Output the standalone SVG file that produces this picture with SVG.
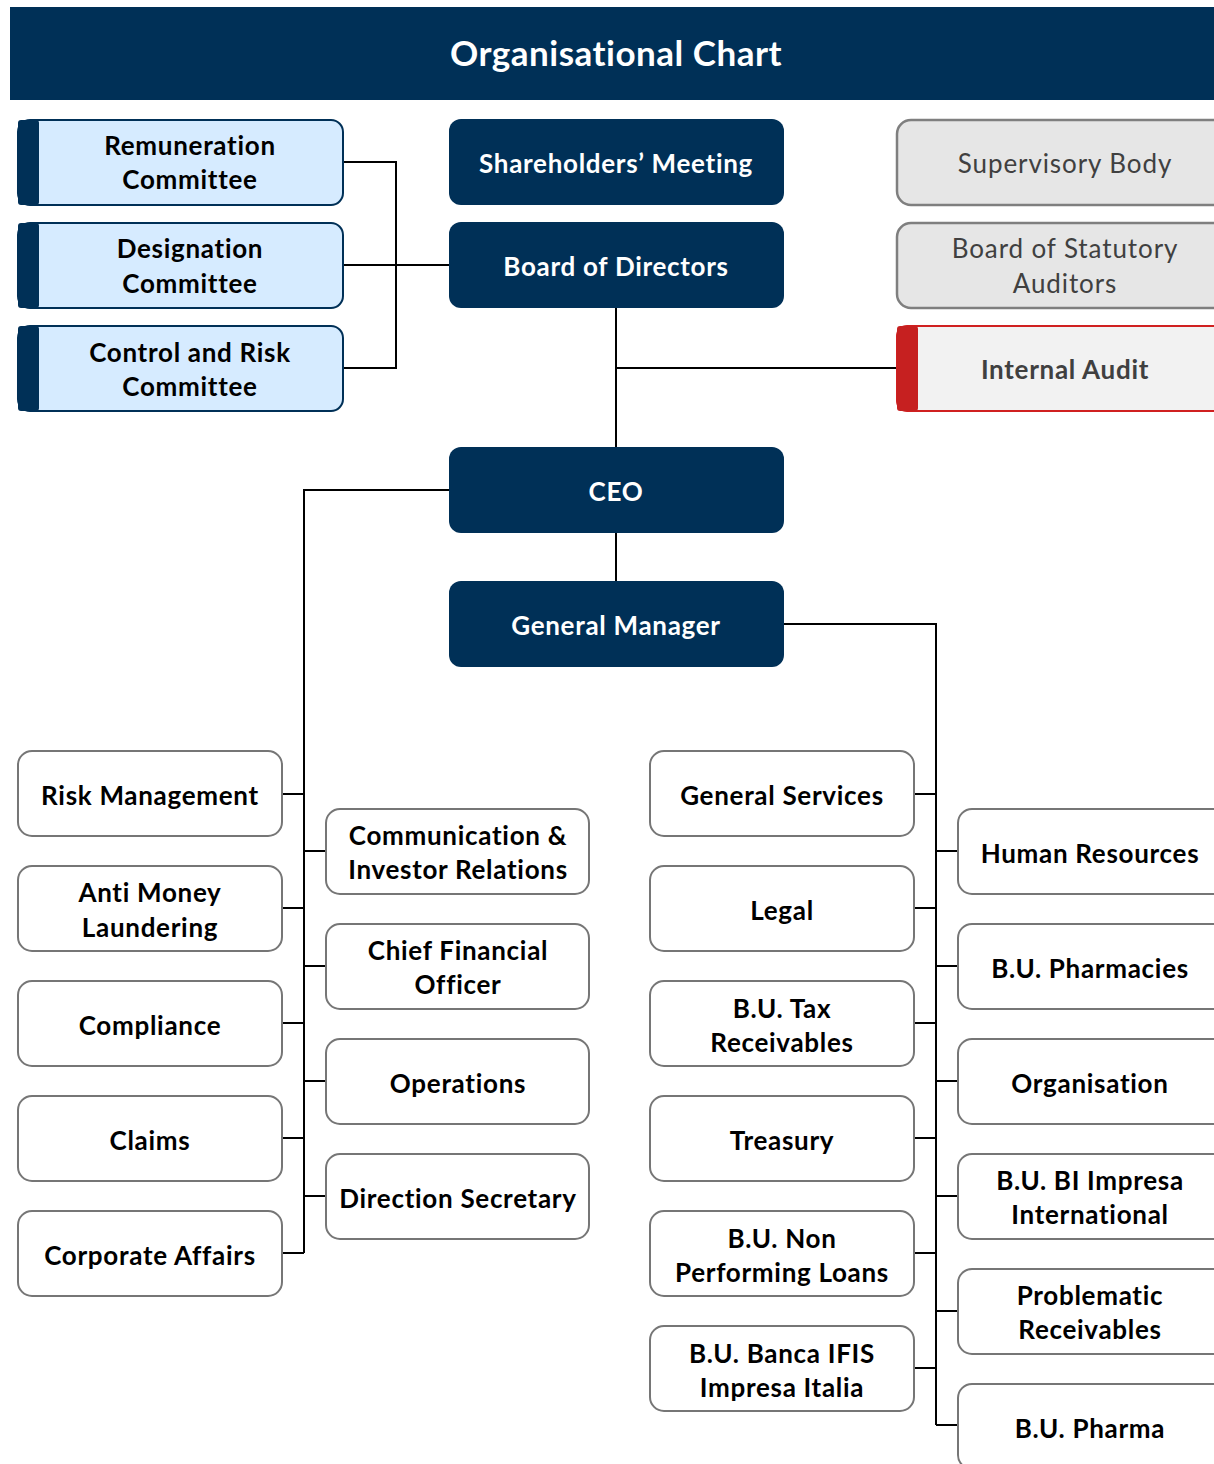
<svg xmlns="http://www.w3.org/2000/svg" width="1214" height="1464" viewBox="0 0 1214 1464">
<style>
text{font-family:Lato,"Open Sans","Liberation Sans",sans-serif;font-weight:bold;text-anchor:middle;dominant-baseline:central;font-size:26px;letter-spacing:0.7px}
.t{font-size:35px;fill:#fff;letter-spacing:0.5px}
.nav rect{fill:#003057}
.nav text{fill:#fff}
.com .bg{fill:#D6EBFF;stroke:#003057;stroke-width:2}
.com .bar{fill:#003057}
.com text{fill:#000}
.w rect{fill:#fff;stroke:#767676;stroke-width:2}
.w text{fill:#000}
.g rect{fill:#E6E6E6;stroke:#7F7F7F;stroke-width:2.5}
.g text{fill:#404040;font-weight:normal;letter-spacing:0.9px}
.ia .bg{fill:#F2F2F2;stroke:#D02020;stroke-width:2}
.ia .bar{fill:#C62020}
.ia text{fill:#404040}
#connectors path{fill:none;stroke:#000;stroke-width:2}
</style>
<rect x="10" y="7" width="1204" height="93" fill="#003057"/>
<text class="t" x="616" y="52">Organisational Chart</text>

<g id="connectors">
<path d="M343 162H396V368H343M343 265H449"/>
<path d="M616 308V447M616 368H897M616 533V581"/>
<path d="M449 490H304V1253M282 794H304M282 908H304M282 1023H304M282 1138H304M282 1253H304M304 851H326M304 966H326M304 1081H326M304 1196H326"/>
<path d="M784 624H936V1425M914 794H936M914 908H936M914 1023H936M914 1138H936M914 1253H936M914 1368H936M936 851H958M936 966H958M936 1081H958M936 1196H958M936 1311H958M936 1425H958"/>
</g>

<g id="remuneration" class="com"><rect class="bg" x="18" y="120" width="325" height="85" rx="12"/><rect class="bar" x="18" y="120" width="21" height="85" rx="3"/><text x="190" y="145">Remuneration</text><text x="190" y="179">Committee</text></g>
<g id="designation" class="com"><rect class="bg" x="18" y="223" width="325" height="85" rx="12"/><rect class="bar" x="18" y="223" width="21" height="85" rx="3"/><text x="190" y="248">Designation</text><text x="190" y="283">Committee</text></g>
<g id="controlrisk" class="com"><rect class="bg" x="18" y="326" width="325" height="85" rx="12"/><rect class="bar" x="18" y="326" width="21" height="85" rx="3"/><text x="190" y="352">Control and Risk</text><text x="190" y="386">Committee</text></g>

<g id="shareholders" class="nav"><rect x="449" y="119" width="335" height="86" rx="12"/><text x="616" y="163">Shareholders’ Meeting</text></g>
<g id="board" class="nav"><rect x="449" y="222" width="335" height="86" rx="12"/><text x="616" y="266">Board of Directors</text></g>
<g id="ceo" class="nav"><rect x="449" y="447" width="335" height="86" rx="12"/><text x="616" y="491">CEO</text></g>
<g id="gm" class="nav"><rect x="449" y="581" width="335" height="86" rx="12"/><text x="616" y="625">General Manager</text></g>

<g id="supervisory" class="g"><rect x="897" y="120" width="330" height="85" rx="14"/><text x="1065" y="163">Supervisory Body</text></g>
<g id="statutory" class="g"><rect x="897" y="223" width="330" height="85" rx="14"/><text x="1065" y="248">Board of Statutory</text><text x="1065" y="283">Auditors</text></g>
<g id="internalaudit" class="ia"><rect class="bg" x="897" y="326" width="330" height="85" rx="10"/><rect class="bar" x="897" y="326" width="21" height="85" rx="3"/><text x="1065" y="369">Internal Audit</text></g>

<g id="riskmgmt" class="w"><rect x="18" y="751" width="264" height="85" rx="14"/><text x="150" y="795">Risk Management</text></g>
<g id="aml" class="w"><rect x="18" y="866" width="264" height="85" rx="14"/><text x="150" y="892">Anti Money</text><text x="150" y="927">Laundering</text></g>
<g id="compliance" class="w"><rect x="18" y="981" width="264" height="85" rx="14"/><text x="150" y="1025">Compliance</text></g>
<g id="claims" class="w"><rect x="18" y="1096" width="264" height="85" rx="14"/><text x="150" y="1140">Claims</text></g>
<g id="corporate" class="w"><rect x="18" y="1211" width="264" height="85" rx="14"/><text x="150" y="1255">Corporate Affairs</text></g>

<g id="communication" class="w"><rect x="326" y="809" width="263" height="85" rx="14"/><text x="458" y="835">Communication &amp;</text><text x="458" y="869">Investor Relations</text></g>
<g id="cfo" class="w"><rect x="326" y="924" width="263" height="85" rx="14"/><text x="458" y="950">Chief Financial</text><text x="458" y="984">Officer</text></g>
<g id="operations" class="w"><rect x="326" y="1039" width="263" height="85" rx="14"/><text x="458" y="1083">Operations</text></g>
<g id="direction" class="w"><rect x="326" y="1154" width="263" height="85" rx="14"/><text x="458" y="1198">Direction Secretary</text></g>

<g id="generalservices" class="w"><rect x="650" y="751" width="264" height="85" rx="14"/><text x="782" y="795">General Services</text></g>
<g id="legal" class="w"><rect x="650" y="866" width="264" height="85" rx="14"/><text x="782" y="910">Legal</text></g>
<g id="butax" class="w"><rect x="650" y="981" width="264" height="85" rx="14"/><text x="782" y="1008">B.U. Tax</text><text x="782" y="1042">Receivables</text></g>
<g id="treasury" class="w"><rect x="650" y="1096" width="264" height="85" rx="14"/><text x="782" y="1140">Treasury</text></g>
<g id="bunpl" class="w"><rect x="650" y="1211" width="264" height="85" rx="14"/><text x="782" y="1238">B.U. Non</text><text x="782" y="1272">Performing Loans</text></g>
<g id="buifis" class="w"><rect x="650" y="1326" width="264" height="85" rx="14"/><text x="782" y="1353">B.U. Banca IFIS</text><text x="782" y="1387">Impresa Italia</text></g>

<g id="hr" class="w"><rect x="958" y="809" width="270" height="85" rx="14"/><text x="1090" y="853">Human Resources</text></g>
<g id="bupharmacies" class="w"><rect x="958" y="924" width="270" height="85" rx="14"/><text x="1090" y="968">B.U. Pharmacies</text></g>
<g id="organisation" class="w"><rect x="958" y="1039" width="270" height="85" rx="14"/><text x="1090" y="1083">Organisation</text></g>
<g id="bubi" class="w"><rect x="958" y="1154" width="270" height="85" rx="14"/><text x="1090" y="1180">B.U. BI Impresa</text><text x="1090" y="1214">International</text></g>
<g id="problematic" class="w"><rect x="958" y="1269" width="270" height="85" rx="14"/><text x="1090" y="1295">Problematic</text><text x="1090" y="1329">Receivables</text></g>
<g id="bupharma" class="w"><rect x="958" y="1384" width="270" height="85" rx="14"/><text x="1090" y="1428">B.U. Pharma</text></g>
</svg>
